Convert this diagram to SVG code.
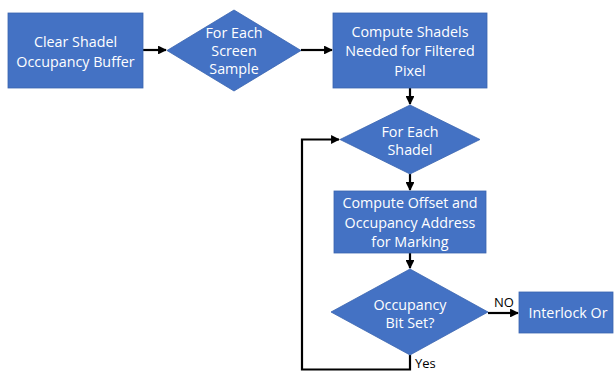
<svg xmlns="http://www.w3.org/2000/svg" width="614" height="372" viewBox="0 0 614 372">
<style>
.n{fill:#4472C4;stroke:#3A64B0;stroke-width:0.8}
.t{fill:#fff;font-family:"Open Sans","Noto Sans",sans-serif;font-size:14.3px;text-anchor:middle}
.c{fill:none;stroke:#000;stroke-width:2.2}
.l{fill:#000;font-family:"Open Sans","Noto Sans",sans-serif;font-size:13px}
</style>
<defs>
<marker id="a" viewBox="0 0 10 10" refX="9" refY="5" markerWidth="4" markerHeight="4" orient="auto" markerUnits="strokeWidth">
<path d="M0,0 L10,5 L0,10 z" fill="#000"/>
</marker>
</defs>
<rect width="614" height="372" fill="#fff"/>
<g id="connectors">
<line class="c" x1="143" y1="50" x2="166" y2="50" marker-end="url(#a)"/>
<line class="c" x1="301" y1="50" x2="332" y2="50" marker-end="url(#a)"/>
<line class="c" x1="410" y1="88" x2="410" y2="104" marker-end="url(#a)"/>
<line class="c" x1="410" y1="174" x2="410" y2="190" marker-end="url(#a)"/>
<line class="c" x1="410" y1="253" x2="410" y2="268" marker-end="url(#a)"/>
<line class="c" x1="488" y1="313" x2="518" y2="313" marker-end="url(#a)"/>
<polyline class="c" points="410,355 410,369.5 302,369.5 302,139.5 339,139.5" marker-end="url(#a)"/>
<text class="l" x="494" y="307">NO</text>
<text class="l" x="415" y="368">Yes</text>
</g>
<g id="clear">
<rect class="n" x="8" y="13" width="135" height="75"/>
<text class="t" x="75.5" y="47">Clear Shadel</text>
<text class="t" x="75.5" y="67">Occupancy Buffer</text>
</g>
<g id="foreach-sample">
<polygon class="n" points="234,10 301,50.5 234,91 167,50.5"/>
<text class="t" x="234" y="38">For Each</text>
<text class="t" x="234" y="56">Screen</text>
<text class="t" x="234" y="74">Sample</text>
</g>
<g id="compute-shadels">
<rect class="n" x="333" y="13" width="154" height="75"/>
<text class="t" x="410" y="37">Compute Shadels</text>
<text class="t" x="410" y="56">Needed for Filtered</text>
<text class="t" x="410" y="76">Pixel</text>
</g>
<g id="foreach-shadel">
<polygon class="n" points="410,105 480,139.5 410,174 340,139.5"/>
<text class="t" x="410" y="137">For Each</text>
<text class="t" x="410" y="155">Shadel</text>
</g>
<g id="compute-offset">
<rect class="n" x="334" y="191" width="152" height="62"/>
<text class="t" x="410" y="208">Compute Offset and</text>
<text class="t" x="410" y="228">Occupancy Address</text>
<text class="t" x="410" y="247">for Marking</text>
</g>
<g id="bitset">
<polygon class="n" points="410,269 488,312 410,355 331,312"/>
<text class="t" x="410" y="310">Occupancy</text>
<text class="t" x="410" y="328">Bit Set?</text>
</g>
<g id="interlock">
<rect class="n" x="519" y="292" width="94" height="41"/>
<text class="t" x="568" y="318">Interlock Or</text>
</g>
</svg>
